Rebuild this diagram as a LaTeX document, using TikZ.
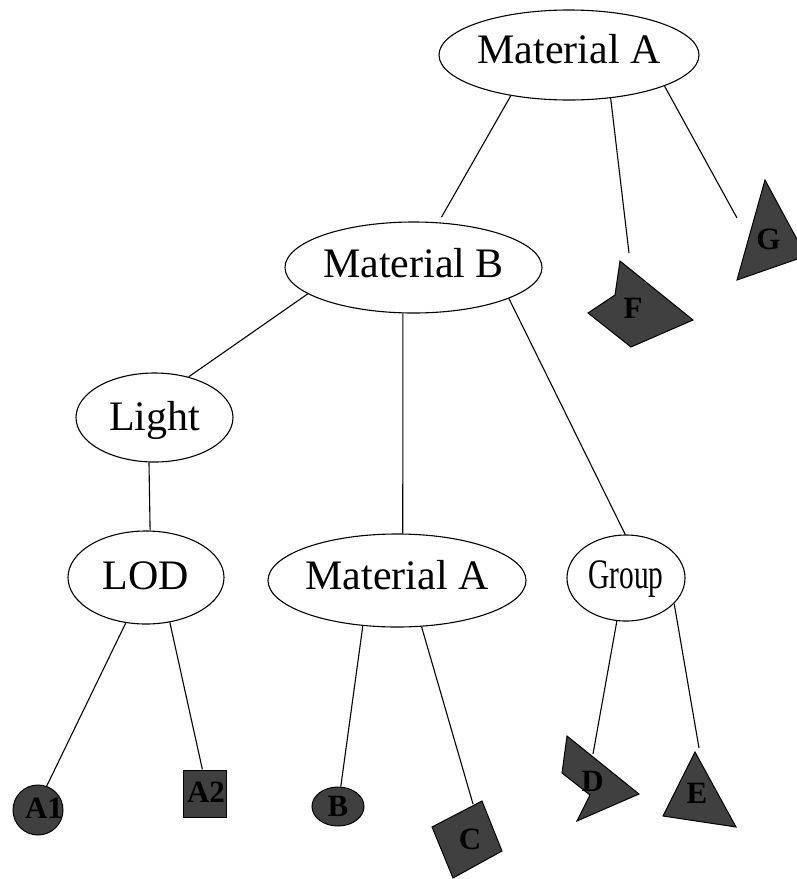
\documentclass[tikz,border=0pt]{standalone}
\usepackage{fontspec}
\setmainfont{Liberation Serif}
\usetikzlibrary{shapes.geometric}
\definecolor{leafgray}{RGB}{64,64,64}
\begin{document}
\begin{tikzpicture}[x=1pt,y=-1pt,
  graphnode/.style={ellipse,draw=black,line width=1.1pt,inner sep=0pt,
    font=\fontsize{42}{48}\selectfont,text height=20pt,text depth=0pt},
  link/.style={line width=1.1pt},
  leaf/.style={draw=black,fill=leafgray,line width=1pt,inner sep=0pt},
  leaflabel/.style={font=\bfseries\fontsize{31}{36}\selectfont,inner sep=0pt,text=black}]
\useasboundingbox (0,0) rectangle (796,879);

% group / property nodes
\node[graphnode,minimum width=260pt,minimum height=90pt,text height=17pt] (topA) at (569,55) {\makebox[0pt]{Material A}};
\node[graphnode,minimum width=257pt,minimum height=91pt,text height=19pt] (matB) at (413.5,267.5) {\makebox[0pt]{Material B}};
\node[graphnode,minimum width=157pt,minimum height=89pt,text height=25pt] (light) at (154.5,417.5) {\makebox[0pt]{Light}};
\node[graphnode,minimum width=156pt,minimum height=93pt,text height=23pt] (lod) at (146,577.5) {\makebox[0pt]{LOD}};
\node[graphnode,minimum width=258pt,minimum height=93pt,text height=17pt] (midA) at (397,580.5) {\makebox[0pt]{Material A}};
\node[graphnode,minimum width=118pt,minimum height=86pt,text height=20pt] (grp) at (626,578) {\makebox[0pt]{\scalebox{0.7}[1]{Group}}};

% leaf shapes
\node[leaf,circle,minimum size=50pt] (a1) at (38,810) {};
\node[leaf,rectangle,minimum width=43pt,minimum height=47pt] (a2) at (204.5,793.5) {};
\node[leaf,ellipse,minimum width=52pt,minimum height=39pt] (b) at (338,806.5) {};
\draw[leaf] (432,827) -- (482,801) -- (502,851) -- (453,878) -- cycle;
\draw[leaf] (567,736) -- (562,773) -- (590,795) -- (577,821) -- (639,794) -- cycle;
\draw[leaf] (695,752) -- (663,816) -- (736,827) -- cycle;
\draw[leaf] (620,261) -- (615,295) -- (588,313) -- (631,347) -- (693,320) -- cycle;
\draw[leaf] (765,180) -- (737,280) -- (806,256) -- cycle;

% leaf labels
\node[leaflabel] (la1) at (44,808) {A1};
\node[leaflabel] (la2) at (206,792) {A2};
\node[leaflabel] (lb) at (338,806) {B};
\node[leaflabel] (lc) at (470,839) {C};
\node[leaflabel] (ld) at (592.5,781) {D};
\node[leaflabel] (le) at (697,793) {E};
\node[leaflabel] (lf) at (633,308) {F};
\node[leaflabel] (lg) at (768.5,239) {G};

% loose connector ends next to the polygon leaves
\coordinate (cIn) at (473,804);
\coordinate (dIn) at (593,754);
\coordinate (eIn) at (699,748);
\coordinate (fIn) at (629,253);
\coordinate (gIn) at (737,218);

% connectors
\draw[link,shorten >=6pt] (topA.215) -- (matB.61);
\draw[link] (topA.-46) -- (fIn);
\draw[link] (topA.-18) -- (gIn);
\draw[link] (matB.194) -- (light.50);
\draw[link] (matB.-103) -- (midA.83);
\draw[link] (matB.-18) -- (grp.91);
\draw[link] (light.-97) -- (lod.85);
\draw[link] (lod.-114) -- (a1.70);
\draw[link] (lod.-62) -- (a2.95);
\draw[link] (midA.-127) -- (b.82);
\draw[link] (midA.-62) -- (cIn);
\draw[link] (grp.-102) -- (dIn);
\draw[link] (grp.-28) -- (eIn);
\end{tikzpicture}
\end{document}
